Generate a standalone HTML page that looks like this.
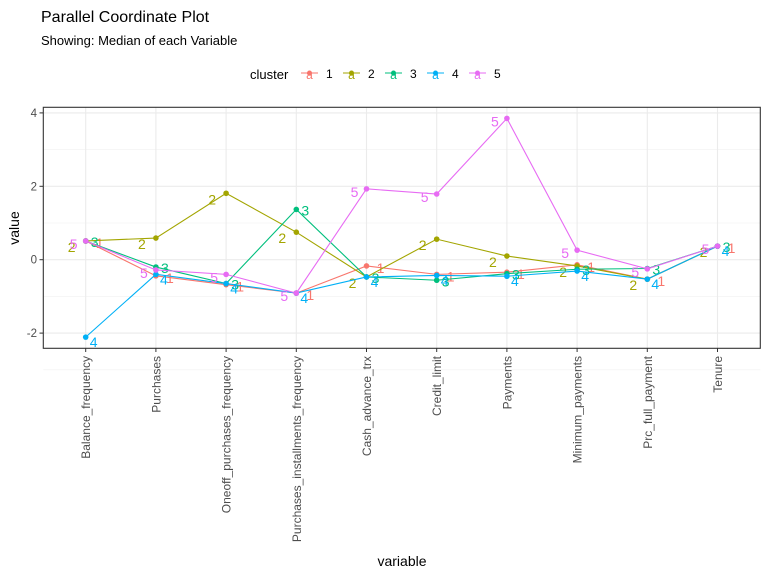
<!DOCTYPE html>
<html><head><meta charset="utf-8"><style>
body{margin:0;background:#fff;font-family:"Liberation Sans",Arial,sans-serif}
svg text{font-family:"Liberation Sans",Arial,sans-serif}
</style></head><body>
<svg id="chart" width="768" height="576" viewBox="0 0 768 576">
<text x="41" y="22" font-size="16" fill="#000">Parallel Coordinate Plot</text>
<text x="41" y="45" font-size="13" fill="#000">Showing: Median of each Variable</text>
<g id="legend"></g>
<g id="grid"></g>
<g id="series"></g>
<rect x="43.3" y="107.3" width="717" height="241" fill="none" stroke="#333" stroke-width="1.1"/>
<g id="axes"></g>
<text x="402" y="566" font-size="14" text-anchor="middle" fill="#000">variable</text>
<text transform="translate(19,228) rotate(-90)" font-size="14" text-anchor="middle" fill="#000">value</text>
</svg>
<script>
const categories=["Balance_frequency","Purchases","Oneoff_purchases_frequency","Purchases_installments_frequency","Cash_advance_trx","Credit_limit","Payments","Minimum_payments","Prc_full_payment","Tenure"];
const clusters=["1","2","3","4","5"];
const colors=["#F8766D","#A3A500","#00BF7D","#00B0F6","#E76BF3"];
const series1=[0.51,-0.44,-0.68,-0.91,-0.17,-0.40,-0.34,-0.14,-0.53,0.37];
const series2=[0.51,0.59,1.81,0.75,-0.47,0.56,0.10,-0.17,-0.53,0.37];
const series3=[0.51,-0.20,-0.65,1.37,-0.47,-0.56,-0.38,-0.26,-0.24,0.37];
const series4=[-2.11,-0.40,-0.65,-0.91,-0.47,-0.43,-0.45,-0.31,-0.53,0.37];
const series5=[0.51,-0.28,-0.40,-0.91,1.93,1.79,3.85,0.26,-0.25,0.37];
const yTicks=[-2,0,2,4];
const yMinor=[-3,-1,1,3];
const allSeries=[series1,series2,series3,series4,series5];
const NS="http://www.w3.org/2000/svg";
const xs=i=>85.7+70.2*i;
const ys=v=>259.7-36.7*v;
function mk(tag,attrs,parent){const e=document.createElementNS(NS,tag);for(const k in attrs)e.setAttribute(k,attrs[k]);parent.appendChild(e);return e;}
const grid=document.getElementById('grid'),axes=document.getElementById('axes'),ser=document.getElementById('series'),leg=document.getElementById('legend');
yMinor.forEach(v=>{const l=mk('line',{x1:43.3,x2:760.3,y1:ys(v),y2:ys(v),stroke:'#f0f0f0','stroke-width':0.6},grid);

});
yTicks.forEach(v=>{const l=mk('line',{x1:43.3,x2:760.3,y1:ys(v),y2:ys(v),stroke:'#ebebeb','stroke-width':1.1},grid);


const t=mk('line',{x1:39.5,x2:43.3,y1:ys(v),y2:ys(v),stroke:'#333'},axes);


const tx=mk('text',{x:37,y:ys(v)+4,'font-size':11.5,'text-anchor':'end',fill:'#4d4d4d'},axes);tx.textContent=v;

});
categories.forEach((c,i)=>{const l=mk('line',{x1:xs(i),x2:xs(i),y1:107.3,y2:348.3,stroke:'#ebebeb','stroke-width':1.1},grid);


const t=mk('line',{x1:xs(i),x2:xs(i),y1:348.3,y2:352,stroke:'#333'},axes);


const tx=mk('text',{transform:`translate(${xs(i)+4.5},356) rotate(-90)`,'font-size':12,'text-anchor':'end',fill:'#4d4d4d'},axes);tx.textContent=c;

});
const offs=[[14,2],[-14,6],[9,1],[8,5],[-12,3]];
allSeries.forEach((s,k)=>{const g=mk('g',{},ser);


const p=mk('polyline',{points:s.map((v,i)=>xs(i)+','+ys(v)).join(' '),fill:'none',stroke:colors[k],'stroke-width':1.1},g);


s.forEach((v,i)=>{const c=mk('circle',{cx:xs(i),cy:ys(v),r:2.8,fill:colors[k]},g);


const t=mk('text',{x:xs(i)+offs[k][0],y:ys(v)+5+offs[k][1],'font-size':14,'text-anchor':'middle',fill:colors[k]},g);t.textContent=clusters[k];

});});
const lt=mk('text',{x:250,y:79,'font-size':13,fill:'#000'},leg);lt.textContent='cluster';


clusters.forEach((c,k)=>{const x=301+42*k;const g=mk('g',{},leg);


mk('line',{x1:x,x2:x+17,y1:73,y2:73,stroke:colors[k],'stroke-width':1.1},g);
mk('circle',{cx:x+8.5,cy:73,r:2.5,fill:colors[k]},g);
const a=mk('text',{x:x+8.5,y:79,'font-size':12,'text-anchor':'middle',fill:colors[k]},g);a.textContent='a';
const t=mk('text',{x:x+25,y:78,'font-size':12,fill:'#000'},g);t.textContent=c;});
</script>
</body></html>
